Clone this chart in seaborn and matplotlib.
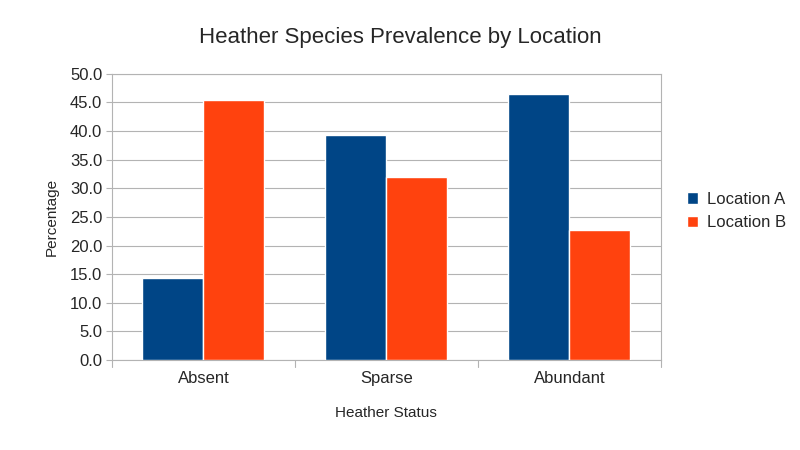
import matplotlib
matplotlib.use("Agg")
import matplotlib.pyplot as plt
import seaborn as sns
import pandas as pd

categories = ["Absent", "Sparse", "Abundant"]
location_a = [14.3, 39.3, 46.5]
location_b = [45.5, 31.9, 22.7]
series = ["Location A", "Location B"]

df = pd.DataFrame({
    "status": categories * 2,
    "value": location_a + location_b,
    "loc": [series[0]] * 3 + [series[1]] * 3,
})

sns.set_style("white")
plt.rcParams['font.family'] = ['Liberation Sans', 'DejaVu Sans']

fig = plt.figure(figsize=(8, 4.5), dpi=100)
ax = fig.add_axes([0.14, 0.2, 0.686, 0.636])
sns.barplot(data=df, x="status", y="value", hue="loc", order=categories,
            palette=["#004586", "#ff420e"], width=0.667, saturation=1,
            ax=ax, zorder=3)
ax.set_ylim(0, 50)
ax.set_xlim(-0.5, 2.5)
ax.set_yticks([i * 5 for i in range(11)])
ax.set_yticklabels([f"{i*5:.1f}" for i in range(11)], fontsize=12)
ax.tick_params(axis="x", labelsize=12, length=0, pad=8)
ax.tick_params(axis="y", length=4, color="#b3b3b3", left=True, pad=3)
for xb in [-0.5, 0.5, 1.5, 2.5]:
    ax.plot([xb, xb], [0, -1.3], color="#b3b3b3", lw=0.8, clip_on=False)
ax.yaxis.grid(True, color="#b3b3b3", lw=0.8, zorder=0)
for s in ax.spines.values():
    s.set_color("#b3b3b3")
    s.set_linewidth(0.8)
ax.set_xlabel("Heather Status", fontsize=11, labelpad=14)
ax.set_ylabel("Percentage", fontsize=11, labelpad=8)
fig.suptitle("Heather Species Prevalence by Location", fontsize=16, y=0.94)
ax.legend(loc="center left", bbox_to_anchor=(1.02, 0.52), frameon=False,
          fontsize=12, handlelength=0.7, handleheight=0.7, handletextpad=0.5,
          labelspacing=0.5)
fig.savefig("out.png", dpi=100)
